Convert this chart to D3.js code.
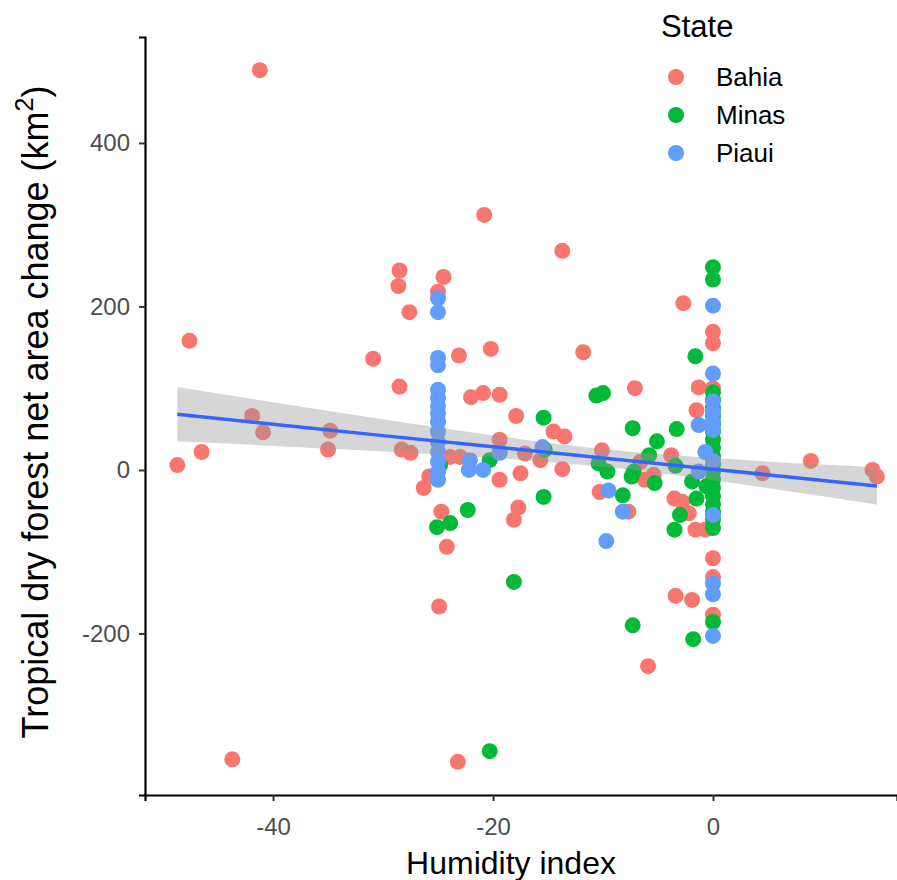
<!DOCTYPE html>
<html>
<head>
<meta charset="utf-8">
<script src="https://cdn.jsdelivr.net/npm/d3@7"></script>
<style>
  body { margin: 0; background: #fff; }
  text { font-family: "Liberation Sans", Arial, sans-serif; }
</style>
</head>
<body>
<svg id="chart" width="897" height="880"></svg>
<script>
// ----- data -----
const states = ["Bahia", "Minas", "Piaui"];
const stateColors = ["#F8766D", "#00BA38", "#619CFF"];

const bahiaHumidity = [-41.2, -47.6, -28.5, -28.6, -24.5, -25, -27.6, -30.9, -23.1, -28.5,
  -20.8, -13.7, -20.2, -11.8, -7.1, -1.3, -22, -20.9, -19.4, -17.9,
  -14.5, -13.5, -19.4, -19.4, -17.1, -15.7, -13.7, -17.5, -19.4, -23.9,
  -23, -27.5, -28.3, -25.8, -26.3, -24.7, -24.2, -17.7, -18.1, -41.9,
  -40.9, -46.5, -48.7, -34.8, -35, -24.9, -43.7, -23.2, -1.5, -3.8,
  -10.1, -10.3, -7.7, -6.6, -6.2, -5.4, -3.5, -2.8, -2.2, -1.6,
  -0.7, -3.4, -1.9, -5.9, -2.7, 0, 0, 0, 0, 0,
  0, 4.5, 8.9, 14.5, 14.9];
const bahiaChange = [489, 158, 244, 225, 236, 218, 193, 136, 140, 102,
  312, 268, 148, 144, 100, 101, 89, 94, 92, 66,
  47, 41, 37, 22, 20, 12, 1, -4, -12, 16,
  16, 21, 25, -8, -22, -51, -94, -46, -61, 66,
  46, 22, 6, 48, 25, -167, -354, -357, 73, 18,
  24, -27, -51, 10, -12, -6, -35, -39, -53, -73,
  -73, -154, -159, -240, 204, 169, 155, 100, -108, -131,
  -177, -4, 11, 0, -8];

const minasHumidity = [-25.1, -23.9, -22.3, -20.3, -18.1, -20.3, -15.4, -15.3, -15.4, -10.6,
  -10, -10.4, -9.6, -8.2, -7.3, -7.4, -7.2, -7.3, -5.1, -5.8,
  -5.3, -3.3, -3.4, -3, -3.5, -1.6, -1.9, -1.5, -1.8, -0.6,
  -24.8, 0, 0, 0, 0, 0, 0, 0, 0, 0,
  0, 0, 0, 0, 0, 0, 0, 0, 0, 0, 0, 0];
const minasChange = [-70, -65, -49, 12, -137, -344, 64, 25, -33, 91,
  94, 8, -2, -31, 51, -8, -2, -190, 35, 18,
  -16, 50, 5, -55, -73, 139, -14, -35, -207, -20,
  6, 248, 233, 95, 86, 76, 66, 56, 47, 37,
  27, 17, 7, -2, -12, -22, -32, -42, -51, -61, -71, -186];

const piauiHumidity = [-25, -25, -25, -25, -25, -25, -25, -25, -25, -25,
  -25, -25, -25, -25, -25, -22.1, -22.2, -20.9, -19.4, -15.5,
  -9.5, -8.2, -9.7, -1.3, -0.7, -1.3, 0, 0, 0, 0,
  0, 0, 0, 0, 0, 0, 0];
const piauiChange = [210, 193, 137, 128, 98, 88, 78, 69, 59, 47,
  34, 22, 10, -2, -12, 12, 0, 0, 21, 28,
  -25, -51, -87, 55, 22, -2, 201, 118, 84, 71,
  59, 49, 11, -55, -139, -152, -203];

// linear fit (geom_smooth, method = "lm") read at a few humidity values
const fitHumidity = [-48.7, -40, -30, -20, -10, 0, 10, 14.9];
const fitValue = [68, 56, 42, 28.5, 14.7, 1, -12.8, -19.6];
const fitLower = [35, 29.4, 22.7, 14.8, 3.8, -12.5, -32.2, -42.4];
const fitUpper = [101.4, 82.8, 61.9, 42.2, 25.6, 14.5, 6.6, 3.2];

const xTicks = [-40, -20, 0];
const yTicks = [-200, 0, 200, 400];

const seriesHumidity = [bahiaHumidity, minasHumidity, piauiHumidity];
const seriesChange = [bahiaChange, minasChange, piauiChange];

// ----- drawing -----
const svg = d3.select("svg#chart");

const x = d3.scaleLinear().domain([-51.64, 16.73]).range([145, 897]);
const y = d3.scaleLinear().domain([-397.6, 529.6]).range([795, 37]);

const color = d3.scaleOrdinal().domain(states).range(stateColors);

const points = states.flatMap((s, i) =>
  seriesHumidity[i].map((h, j) => ({ state: s, hum: h, change: seriesChange[i][j] })));

svg.append("g")
  .selectAll("circle.pt")
  .data(points)
  .join("circle")
  .attr("class", "pt")
  .attr("cx", d => x(d.hum))
  .attr("cy", d => y(d.change))
  .attr("r", 8)
  .style("fill", d => color(d.state));

const fit = fitHumidity.map((h, i) => ({ hum: h, v: fitValue[i], lo: fitLower[i], hi: fitUpper[i] }));

svg.append("path")
  .datum(fit)
  .attr("d", d3.area().curve(d3.curveNatural)
    .x(d => x(d.hum)).y0(d => y(d.lo)).y1(d => y(d.hi)))
  .style("fill", "#999999")
  .style("fill-opacity", 0.4);

svg.append("path")
  .datum(fit)
  .attr("d", d3.line().x(d => x(d.hum)).y(d => y(d.v)))
  .style("fill", "none")
  .style("stroke", "#3366FF")
  .style("stroke-width", 3.5);

// axes
const xAxis = svg.append("g")
  .attr("transform", "translate(0,795)")
  .call(d3.axisBottom(x).tickValues(xTicks).tickSize(6).tickPadding(17).tickFormat(d3.format("d")));
const yAxis = svg.append("g")
  .attr("transform", "translate(145,0)")
  .call(d3.axisLeft(y).tickValues(yTicks).tickSize(6).tickPadding(9).tickFormat(d3.format("d")));

[xAxis, yAxis].forEach(a => {
  a.select(".domain").style("stroke", "#000").style("stroke-width", 2.2);
  a.selectAll(".tick line").style("stroke", "#333").style("stroke-width", 2);
  a.selectAll(".tick text").style("fill", "#4D4D4D").style("font-size", "24px")
    .style("font-family", "'Liberation Sans', Arial, sans-serif")
    .text(d => String(d).replace("-", "-"));
});

svg.append("text")
  .attr("x", 511).attr("y", 874)
  .attr("text-anchor", "middle")
  .style("font-size", "32px")
  .text("Humidity index");

const yt = svg.append("text")
  .attr("transform", "translate(48,412) rotate(-90)")
  .attr("text-anchor", "middle")
  .style("font-size", "36px");
yt.append("tspan").text("Tropical dry forest net area change (km");
yt.append("tspan").attr("dy", -15).style("font-size", "25px").text("2");
yt.append("tspan").attr("dy", 15).text(")");

// legend
const legend = svg.append("g");
legend.append("text")
  .attr("x", 661).attr("y", 37)
  .style("font-size", "31px")
  .text("State");

const keys = legend.selectAll("g.key")
  .data(states)
  .join("g")
  .attr("class", "key")
  .attr("transform", (d, i) => `translate(676,${77 + i * 38})`);
keys.append("circle").attr("r", 8).style("fill", d => color(d));
keys.append("text").attr("x", 40).attr("y", 9)
  .style("font-size", "26px")
  .text(d => d);
</script>
</body>
</html>
